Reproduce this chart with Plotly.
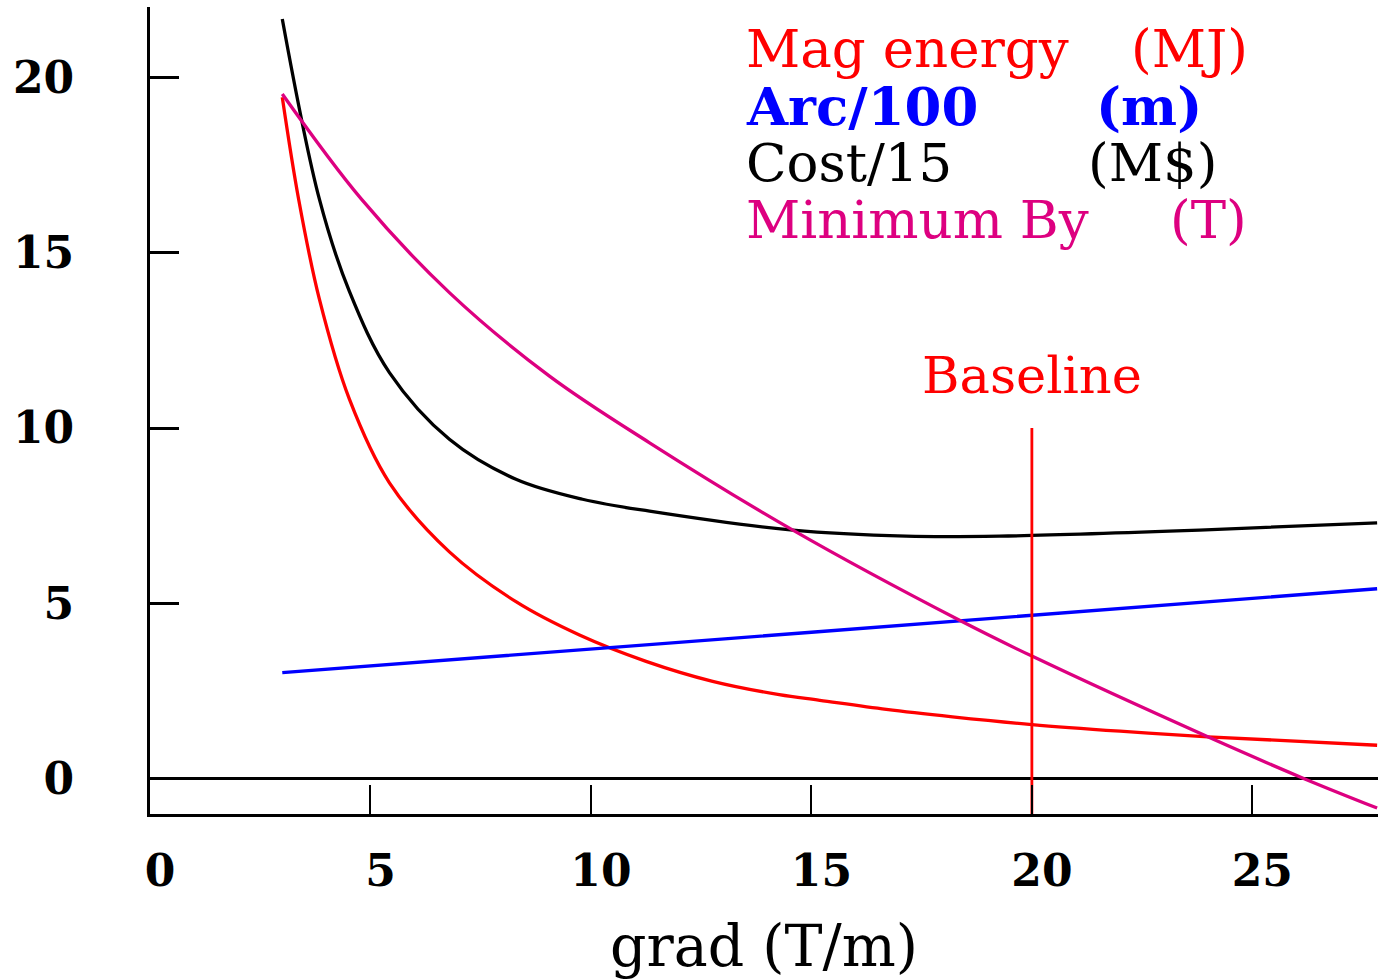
import plotly.graph_objects as go

# ---------------- data ----------------
grad_energy = [3.0, 3.37, 3.84, 4.52, 5.43, 6.79, 8.30, 9.74, 11.25, 12.76, 14.27, 15.19, 16.70, 18.20, 20.0, 22.0, 23.99, 27.83]
mag_energy = [19.43, 16.53, 13.68, 10.83, 8.44, 6.47, 5.05, 4.10, 3.35, 2.78, 2.40, 2.24, 1.98, 1.77, 1.55, 1.36, 1.20, 0.96]

grad_arc = [3.0, 15.0, 27.83]
arc_100 = [3.03, 4.18, 5.42]

grad_cost = [3.0, 3.84, 4.52, 5.43, 6.79, 8.30, 9.81, 11.33, 14.58, 17.15, 19.26, 23.8, 27.83]
cost_15 = [21.66, 16.53, 13.90, 11.58, 9.68, 8.54, 7.97, 7.63, 7.09, 6.92, 6.92, 7.09, 7.30]

grad_by = [3.0, 4.79, 6.79, 9.06, 11.33, 14.58, 18.36, 20.0, 23.99, 26.19, 27.83]
min_by = [19.52, 16.53, 13.86, 11.48, 9.58, 7.09, 4.52, 3.50, 1.20, 0.0, -0.83]

baseline_grad = [20, 20]
baseline_span = [-1, 10]

x_ticks = [0, 5, 10, 15, 20, 25]
y_ticks = [0, 5, 10, 15, 20]

legend_labels = ["Mag energy", "Arc/100", "Cost/15", "Minimum By"]
legend_units = ["(MJ)", "(m)", "(M$)", "(T)"]

RED = "#ff0000"
BLUE = "#0000ff"
BLACK = "#000000"
MAGENTA = "#dd0080"

FONT = "DejaVu Serif"

fig = go.Figure()

def add_line(x, y, color, width=3.3):
    fig.add_trace(go.Scatter(x=x, y=y, mode="lines",
                             line=dict(color=color, width=width, shape="spline", smoothing=1.0),
                             hoverinfo="skip"))

add_line(grad_energy, mag_energy, RED)
add_line(grad_arc, arc_100, BLUE)
add_line(grad_cost, cost_15, BLACK)
add_line(grad_by, min_by, MAGENTA)
fig.add_trace(go.Scatter(x=baseline_grad, y=baseline_span, mode="lines",
                         line=dict(color=RED, width=2.8), hoverinfo="skip"))

X0, PXU = 150.0, 44.1   # pixel helpers for text placement only
def xdata(px):
    return (px - X0) / PXU

def ypaper(px):
    return (814 - px) / 807.0

annotations = []
label_px = [744, 744, 744, 744]
unit_px = [1129, 1094, 1086, 1168]
line_mid_px = [48, 106, 163, 220]
colors = [RED, BLUE, BLACK, MAGENTA]
weights = ["normal", "bold", "normal", "normal"]
for lab, unit, lx, ux, my, c, w in zip(legend_labels, legend_units, label_px, unit_px,
                                       line_mid_px, colors, weights):
    for txt, px in ((lab, lx), (unit, ux)):
        annotations.append(dict(text=txt, x=xdata(px), xref="x", xanchor="left",
                                y=ypaper(my), yref="paper", yanchor="middle",
                                showarrow=False,
                                font=dict(family=FONT, size=53, color=c, weight=w)))

annotations.append(dict(text="Baseline", x=20, xref="x", xanchor="center",
                        y=ypaper(375), yref="paper", yanchor="middle", showarrow=False,
                        font=dict(family=FONT, size=51, color=RED)))

annotations.append(dict(text="grad (T/m)", x=0.5, xref="paper", xanchor="center",
                        y=ypaper(946), yref="paper", yanchor="middle", showarrow=False,
                        font=dict(family=FONT, size=57, color=BLACK)))

fig.update_layout(
    width=1378, height=980,
    margin=dict(l=150, r=0, t=7, b=166),
    plot_bgcolor="white", paper_bgcolor="white",
    showlegend=False,
    annotations=annotations,
)

tickfont = dict(family=FONT, size=44, color=BLACK, weight="bold")

fig.update_xaxes(range=[0, 27.85], showline=True, linecolor=BLACK, linewidth=3,
                 ticks="inside", ticklen=29, tickwidth=2.2, tickcolor=BLACK,
                 tickvals=x_ticks, showgrid=False, zeroline=False,
                 tickfont=tickfont, ticklabelshift=10, ticklabelstandoff=16)
fig.update_yaxes(range=[-1, 22], showline=True, linecolor=BLACK, linewidth=3,
                 ticks="inside", ticklen=29, tickwidth=3, tickcolor=BLACK,
                 tickvals=y_ticks, showgrid=False,
                 zeroline=True, zerolinecolor=BLACK, zerolinewidth=3,
                 tickfont=tickfont, ticklabelstandoff=64)

fig.write_html("out.html")
